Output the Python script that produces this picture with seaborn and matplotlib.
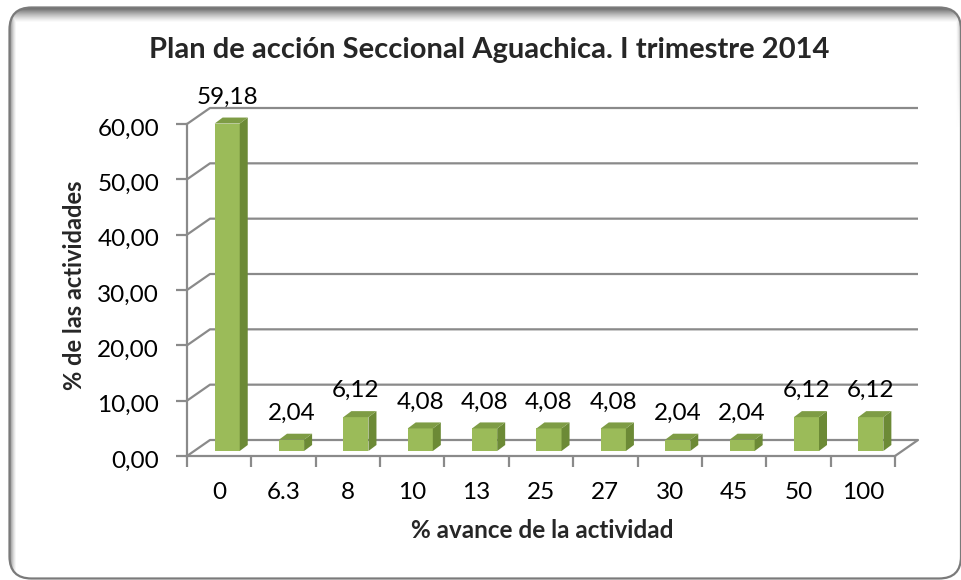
import matplotlib
matplotlib.use("Agg")
import matplotlib.pyplot as plt
import seaborn as sns
import numpy as np
import pandas as pd
from matplotlib.patches import Polygon, FancyBboxPatch
from matplotlib.ticker import FuncFormatter, FixedLocator
from matplotlib.transforms import ScaledTranslation

# ---------------- data ----------------
categories = ["0", "6.3", "8", "10", "13", "25", "27", "30", "45", "50", "100"]
values = [59.18, 2.04, 6.12, 4.08, 4.08, 4.08, 4.08, 2.04, 2.04, 6.12, 6.12]
y_ticks = [0, 10, 20, 30, 40, 50, 60]
title = "Plan de acción Seccional Aguachica. I trimestre 2014"
xlabel = "% avance de la actividad"
ylabel = "% de las actividades"

df = pd.DataFrame({"avance": categories, "pct": values})

# ---------------- style ----------------
sns.set_style("white")
plt.rcParams['font.family'] = ['Lato', 'DejaVu Sans']

FRONT = "#9BBB59"
SIDE = "#6C8A36"
TOP = "#7E9C45"
GRID = "#8A8A8A"
TICK_FS = 17.5

W, H = 962, 580
fig = plt.figure(figsize=(W / 100, H / 100), dpi=100)
fig.patch.set_facecolor("white")

# ---------------- rounded frame with shadow ----------------
bg = fig.add_axes([0, 0, 1, 1], zorder=-10)
bg.set_xlim(0, W)
bg.set_ylim(H, 0)
bg.axis("off")
frame = FancyBboxPatch((9.5, 7.5), 951.5, 571, boxstyle="round,pad=0,rounding_size=22",
                       fc="none", ec="#7a7a7a", lw=1.6, zorder=3)
bg.add_patch(frame)
yy, xx = np.mgrid[0:H, 0:W] + 0.5
d_top = np.clip(1 - (yy - 7.5) / 15.0, 0, 1) ** 1.3
d_left = np.clip(1 - (xx - 9.5) / 7.0, 0, 1) ** 1.4
d_right = np.clip(1 - (961 - xx) / 5.0, 0, 1) ** 1.4 * np.clip(1 - (yy - 7) / 120, 0, 1)
d = np.maximum.reduce([d_top * 0.62, d_left * 0.5, d_right * 0.35])
img = np.dstack([1 - d, 1 - d, 1 - d])
im = bg.imshow(img, extent=(0, W, H, 0), zorder=1, interpolation="bilinear")
im.set_clip_path(frame)

# ---------------- main axes (front plane) ----------------
ax_left, ax_right, ax_top, ax_bottom = 187, 895, 124, 456
ax = fig.add_axes([ax_left / W, (H - ax_bottom) / H, (ax_right - ax_left) / W, (ax_bottom - ax_top) / H])
ax.set_facecolor("none")

sns.barplot(data=df, x="avance", y="pct", order=categories, color=FRONT, saturation=1,
            width=0.39, ax=ax, zorder=3)
ax.set_xlim(-0.5, len(categories) - 0.5)
ax.set_ylim(y_ticks[0], y_ticks[-1])

pxx = (ax_right - ax_left) / len(categories)
pxy = (ax_bottom - ax_top) / (y_ticks[-1] - y_ticks[0])
plane_dx, plane_dy = 8 / pxx, 5 / pxy
depth_dx, depth_dy = 8 / pxx, 6 / pxy
wall_dx, wall_dy = 23 / pxx, 16 / pxy

# back wall grid + floor
xl, xr = -0.5, len(categories) - 0.5
for v in y_ticks:
    ax.plot([xl, xl + wall_dx, xr + wall_dx], [v, v + wall_dy, v + wall_dy],
            color=GRID, lw=1.6, clip_on=False, zorder=1, solid_capstyle="butt")
ax.plot([xr, xr + wall_dx], [0, wall_dy], color=GRID, lw=1.6, clip_on=False, zorder=1)

# 3D bars
for p, val in zip(ax.patches, values):
    x0 = p.get_x() + plane_dx
    w = p.get_width()
    h = p.get_height()
    p.set_x(x0)
    p.set_y(plane_dy)
    p.set_edgecolor("none")
    p.set_clip_on(False)
    y0, y1 = plane_dy, plane_dy + h
    side = Polygon([(x0 + w, y0), (x0 + w + depth_dx, y0 + depth_dy),
                    (x0 + w + depth_dx, y1 + depth_dy), (x0 + w, y1)],
                   closed=True, fc=SIDE, ec="none", zorder=3, clip_on=False)
    top = Polygon([(x0, y1), (x0 + w, y1), (x0 + w + depth_dx, y1 + depth_dy),
                   (x0 + depth_dx, y1 + depth_dy)],
                  closed=True, fc=TOP, ec="none", zorder=3, clip_on=False)
    ax.add_patch(side)
    ax.add_patch(top)
    ax.annotate(f"{val:.2f}".replace(".", ","), (x0 + w / 2, y1), xytext=(0, 19),
                textcoords="offset points", ha="center", va="center", fontsize=TICK_FS,
                color="black", zorder=5, annotation_clip=False)

# spines and ticks
for s in ["top", "right"]:
    ax.spines[s].set_visible(False)
for s in ["left", "bottom"]:
    ax.spines[s].set_color(GRID)
    ax.spines[s].set_linewidth(1.6)
    ax.spines[s].set_zorder(4)

ax.set_yticks(y_ticks)
ax.yaxis.set_major_formatter(FuncFormatter(lambda v, _: f"{v:.2f}".replace(".", ",")))
ax.tick_params(axis="y", left=True, direction="out", length=8, width=1.6, color=GRID,
               pad=12, labelsize=TICK_FS, labelcolor="black")
ax.xaxis.set_minor_locator(FixedLocator(np.arange(len(categories) + 1) - 0.5))
ax.tick_params(axis="x", which="major", bottom=True, length=0, pad=19, labelsize=TICK_FS,
               labelcolor="black")
ax.tick_params(axis="x", which="minor", bottom=True, direction="out", length=8,
               width=1.6, color=GRID)
for lbl in ax.get_yticklabels():
    lbl.set_transform(lbl.get_transform() + ScaledTranslation(0, -3 / 100, fig.dpi_scale_trans))
ax.set_xlabel("")
ax.set_ylabel("")

fig.text(542 / W, 1 - 530 / H, xlabel, ha="center", va="center", fontsize=17.5, fontweight="bold")
fig.text(75 / W, 1 - 285 / H, ylabel, ha="center", va="center", fontsize=17,
         fontweight="bold", rotation=90)
fig.text(489 / W, 1 - 50 / H, title, ha="center", va="center", fontsize=21, fontweight="bold")

fig.savefig("out.png", dpi=100, facecolor="white")
